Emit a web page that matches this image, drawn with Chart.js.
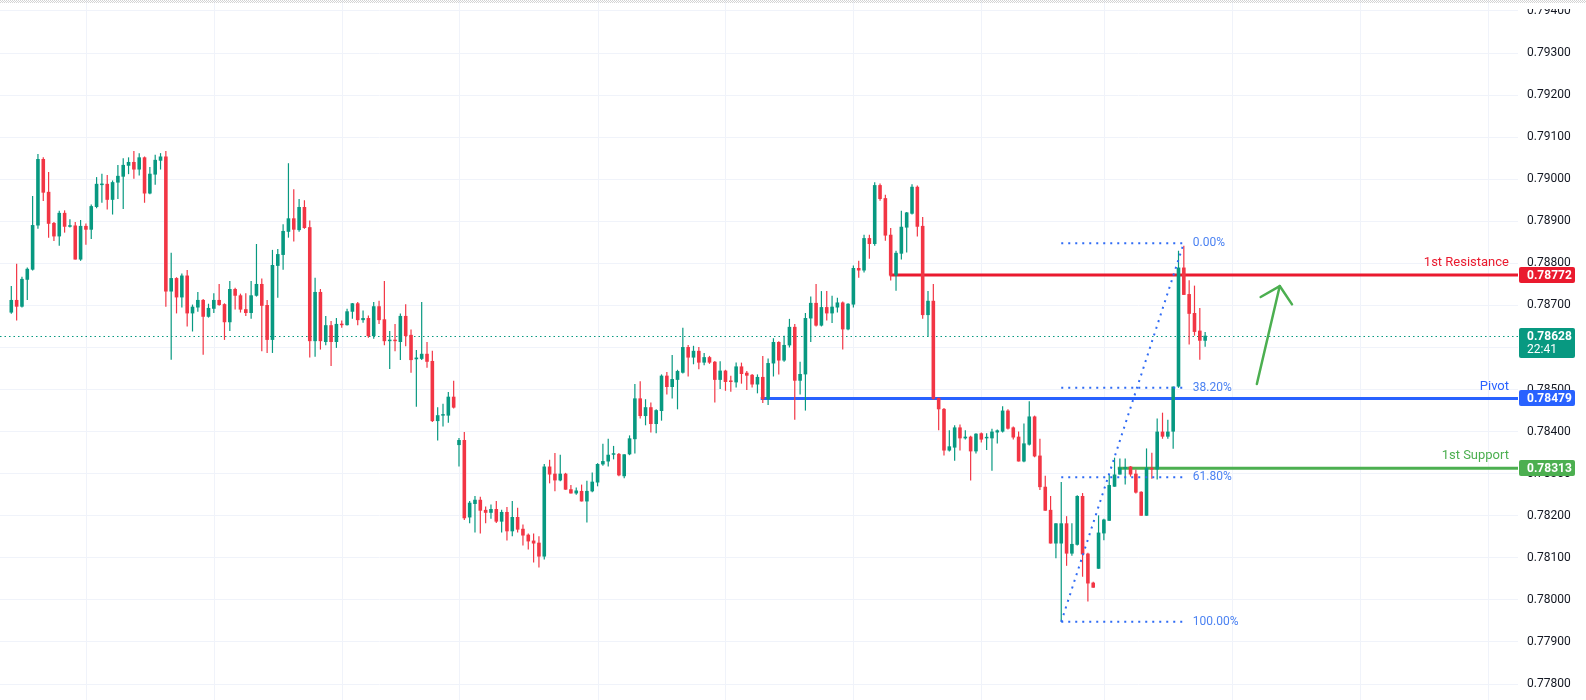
<!DOCTYPE html>
<html>
<head>
<meta charset="utf-8">
<script src="https://cdn.jsdelivr.net/npm/chart.js@4.4.1/dist/chart.umd.min.js"></script>
<style>
  html, body { margin: 0; padding: 0; background: #ffffff; }
  #wrap { width: 1586px; height: 700px; position: relative; }
</style>
</head>
<body>
<div id="wrap"><canvas id="chart" width="1586" height="700"></canvas></div>
<script>
// OHLC, one candle per bar
const opens = [
  0.78683, 0.78713, 0.78697, 0.78761, 0.78785, 0.78890, 0.79048, 0.78970, 0.78896, 0.78864,
  0.78920, 0.78887, 0.78890, 0.78809, 0.78889, 0.78880, 0.78934, 0.78986, 0.78989, 0.78951,
  0.78992, 0.79006, 0.79032, 0.79041, 0.79023, 0.79052, 0.78966, 0.79011, 0.79044, 0.79054,
  0.78733, 0.78765, 0.78719, 0.78771, 0.78681, 0.78695, 0.78713, 0.78673, 0.78692, 0.78713,
  0.78703, 0.78660, 0.78739, 0.78724, 0.78691, 0.78682, 0.78723, 0.78751, 0.78701, 0.78618,
  0.78794, 0.78820, 0.78875, 0.78907, 0.78879, 0.78934, 0.78886, 0.78615, 0.78732, 0.78613,
  0.78653, 0.78613, 0.78656, 0.78653, 0.78685, 0.78705, 0.78665, 0.78670, 0.78627, 0.78698,
  0.78667, 0.78615, 0.78618, 0.78613, 0.78675, 0.78630, 0.78572, 0.78573, 0.78585, 0.78568,
  0.78425, 0.78438, 0.78438, 0.78483, 0.78368, 0.78380, 0.78196, 0.78228, 0.78238, 0.78214,
  0.78207, 0.78216, 0.78186, 0.78209, 0.78163, 0.78197, 0.78169, 0.78155, 0.78141, 0.78136,
  0.78103, 0.78317, 0.78300, 0.78284, 0.78300, 0.78263, 0.78253, 0.78259, 0.78234, 0.78258,
  0.78279, 0.78322, 0.78329, 0.78345, 0.78347, 0.78294, 0.78346, 0.78382, 0.78479, 0.78437,
  0.78458, 0.78418, 0.78449, 0.78533, 0.78506, 0.78523, 0.78540, 0.78601, 0.78576, 0.78592,
  0.78564, 0.78577, 0.78566, 0.78523, 0.78545, 0.78521, 0.78517, 0.78555, 0.78540, 0.78535,
  0.78512, 0.78530, 0.78477, 0.78562, 0.78613, 0.78569, 0.78605, 0.78649, 0.78521, 0.78536,
  0.78669, 0.78706, 0.78652, 0.78696, 0.78681, 0.78695, 0.78707, 0.78643, 0.78702, 0.78789,
  0.78783, 0.78860, 0.78846, 0.78986, 0.78955, 0.78868, 0.78771, 0.78823, 0.78885, 0.78918,
  0.78982, 0.78889, 0.78677, 0.78711, 0.78480, 0.78454, 0.78355, 0.78362, 0.78410, 0.78384,
  0.78388, 0.78353, 0.78396, 0.78384, 0.78384, 0.78398, 0.78400, 0.78450, 0.78410, 0.78388,
  0.78329, 0.78369, 0.78436, 0.78343, 0.78269, 0.78214, 0.78134, 0.78134, 0.78182, 0.78110,
  0.78131, 0.78247, 0.78110, 0.78041, 0.78074, 0.78158, 0.78188, 0.78269, 0.78298, 0.78312,
  0.78317, 0.78300, 0.78257, 0.78200, 0.78314, 0.78310, 0.78400, 0.78388, 0.78400, 0.78507,
  0.78790, 0.78727, 0.78682, 0.78640, 0.78616
];
const highs = [
  0.78746, 0.78799, 0.78768, 0.78790, 0.78960, 0.79060, 0.79052, 0.79017, 0.78898, 0.78925,
  0.78926, 0.78905, 0.78898, 0.78903, 0.78895, 0.78940, 0.79005, 0.79013, 0.79010, 0.78997,
  0.79034, 0.79050, 0.79052, 0.79067, 0.79062, 0.79054, 0.79029, 0.79058, 0.79062, 0.79067,
  0.78825, 0.78767, 0.78776, 0.78784, 0.78702, 0.78732, 0.78715, 0.78704, 0.78729, 0.78751,
  0.78705, 0.78758, 0.78742, 0.78728, 0.78729, 0.78758, 0.78846, 0.78764, 0.78713, 0.78832,
  0.78834, 0.78893, 0.79038, 0.78976, 0.78953, 0.78950, 0.78902, 0.78766, 0.78739, 0.78675,
  0.78663, 0.78670, 0.78664, 0.78692, 0.78706, 0.78708, 0.78688, 0.78676, 0.78708, 0.78711,
  0.78758, 0.78639, 0.78656, 0.78681, 0.78703, 0.78643, 0.78594, 0.78708, 0.78613, 0.78592,
  0.78458, 0.78466, 0.78494, 0.78521, 0.78385, 0.78399, 0.78235, 0.78247, 0.78245, 0.78222,
  0.78227, 0.78235, 0.78214, 0.78221, 0.78235, 0.78219, 0.78179, 0.78158, 0.78158, 0.78151,
  0.78323, 0.78333, 0.78349, 0.78345, 0.78302, 0.78273, 0.78267, 0.78274, 0.78283, 0.78303,
  0.78325, 0.78371, 0.78383, 0.78366, 0.78349, 0.78346, 0.78391, 0.78513, 0.78520, 0.78477,
  0.78469, 0.78453, 0.78536, 0.78542, 0.78582, 0.78547, 0.78647, 0.78606, 0.78604, 0.78601,
  0.78587, 0.78580, 0.78568, 0.78567, 0.78547, 0.78533, 0.78564, 0.78564, 0.78544, 0.78537,
  0.78536, 0.78580, 0.78574, 0.78622, 0.78615, 0.78628, 0.78668, 0.78656, 0.78566, 0.78682,
  0.78721, 0.78751, 0.78734, 0.78734, 0.78723, 0.78718, 0.78709, 0.78705, 0.78795, 0.78806,
  0.78868, 0.78868, 0.78993, 0.78990, 0.78963, 0.78884, 0.78830, 0.78925, 0.78922, 0.78988,
  0.78985, 0.78910, 0.78734, 0.78751, 0.78481, 0.78456, 0.78403, 0.78415, 0.78417, 0.78403,
  0.78390, 0.78396, 0.78398, 0.78396, 0.78407, 0.78405, 0.78460, 0.78453, 0.78412, 0.78400,
  0.78419, 0.78472, 0.78438, 0.78383, 0.78295, 0.78247, 0.78182, 0.78280, 0.78199, 0.78182,
  0.78249, 0.78254, 0.78112, 0.78043, 0.78201, 0.78193, 0.78298, 0.78338, 0.78336, 0.78336,
  0.78318, 0.78310, 0.78258, 0.78360, 0.78350, 0.78431, 0.78445, 0.78428, 0.78507, 0.78830,
  0.78842, 0.78760, 0.78747, 0.78694, 0.78637
];
const lows = [
  0.78680, 0.78664, 0.78695, 0.78713, 0.78783, 0.78882, 0.78948, 0.78861, 0.78853, 0.78842,
  0.78873, 0.78885, 0.78809, 0.78806, 0.78844, 0.78858, 0.78931, 0.78944, 0.78928, 0.78916,
  0.78953, 0.78929, 0.79012, 0.79001, 0.79009, 0.78944, 0.78964, 0.78987, 0.79023, 0.78697,
  0.78571, 0.78681, 0.78695, 0.78650, 0.78638, 0.78685, 0.78583, 0.78671, 0.78682, 0.78699,
  0.78618, 0.78639, 0.78690, 0.78683, 0.78675, 0.78668, 0.78721, 0.78591, 0.78587, 0.78587,
  0.78718, 0.78785, 0.78861, 0.78852, 0.78875, 0.78882, 0.78576, 0.78578, 0.78595, 0.78605,
  0.78556, 0.78599, 0.78647, 0.78652, 0.78668, 0.78653, 0.78659, 0.78623, 0.78621, 0.78656,
  0.78605, 0.78549, 0.78591, 0.78570, 0.78603, 0.78540, 0.78459, 0.78570, 0.78552, 0.78423,
  0.78379, 0.78412, 0.78421, 0.78455, 0.78317, 0.78190, 0.78182, 0.78160, 0.78158, 0.78182,
  0.78193, 0.78183, 0.78160, 0.78141, 0.78151, 0.78160, 0.78129, 0.78120, 0.78089, 0.78077,
  0.78096, 0.78277, 0.78258, 0.78282, 0.78262, 0.78253, 0.78250, 0.78234, 0.78184, 0.78256,
  0.78270, 0.78319, 0.78317, 0.78334, 0.78294, 0.78289, 0.78344, 0.78348, 0.78431, 0.78415,
  0.78398, 0.78396, 0.78426, 0.78488, 0.78479, 0.78453, 0.78538, 0.78531, 0.78560, 0.78548,
  0.78558, 0.78561, 0.78469, 0.78501, 0.78497, 0.78495, 0.78505, 0.78514, 0.78499, 0.78505,
  0.78491, 0.78468, 0.78463, 0.78531, 0.78536, 0.78566, 0.78600, 0.78428, 0.78488, 0.78450,
  0.78613, 0.78650, 0.78650, 0.78664, 0.78658, 0.78683, 0.78595, 0.78641, 0.78695, 0.78766,
  0.78778, 0.78811, 0.78842, 0.78949, 0.78854, 0.78759, 0.78735, 0.78809, 0.78826, 0.78916,
  0.78864, 0.78668, 0.78626, 0.78476, 0.78403, 0.78343, 0.78353, 0.78331, 0.78355, 0.78381,
  0.78284, 0.78348, 0.78374, 0.78356, 0.78307, 0.78372, 0.78398, 0.78405, 0.78381, 0.78329,
  0.78327, 0.78367, 0.78339, 0.78261, 0.78212, 0.78134, 0.78099, 0.77948, 0.78081, 0.78105,
  0.78129, 0.78055, 0.77996, 0.78029, 0.78074, 0.78142, 0.78188, 0.78269, 0.78298, 0.78274,
  0.78293, 0.78253, 0.78200, 0.78200, 0.78288, 0.78286, 0.78383, 0.78383, 0.78359, 0.78504,
  0.78725, 0.78607, 0.78628, 0.78571, 0.78602
];
const closes = [
  0.78713, 0.78697, 0.78763, 0.78787, 0.78891, 0.79048, 0.78968, 0.78894, 0.78864, 0.78920,
  0.78887, 0.78890, 0.78809, 0.78889, 0.78880, 0.78936, 0.78989, 0.78989, 0.78951, 0.78993,
  0.79008, 0.79034, 0.79041, 0.79023, 0.79052, 0.78966, 0.79013, 0.79046, 0.79054, 0.78733,
  0.78765, 0.78719, 0.78771, 0.78681, 0.78697, 0.78713, 0.78673, 0.78694, 0.78713, 0.78701,
  0.78660, 0.78739, 0.78723, 0.78690, 0.78682, 0.78724, 0.78751, 0.78699, 0.78618, 0.78796,
  0.78822, 0.78877, 0.78907, 0.78880, 0.78934, 0.78884, 0.78615, 0.78732, 0.78615, 0.78653,
  0.78613, 0.78656, 0.78653, 0.78686, 0.78705, 0.78665, 0.78670, 0.78627, 0.78698, 0.78665,
  0.78615, 0.78618, 0.78615, 0.78675, 0.78627, 0.78570, 0.78576, 0.78585, 0.78566, 0.78425,
  0.78439, 0.78441, 0.78483, 0.78457, 0.78380, 0.78194, 0.78231, 0.78238, 0.78212, 0.78207,
  0.78216, 0.78186, 0.78209, 0.78163, 0.78197, 0.78167, 0.78153, 0.78139, 0.78134, 0.78103,
  0.78317, 0.78298, 0.78284, 0.78300, 0.78262, 0.78253, 0.78260, 0.78234, 0.78259, 0.78281,
  0.78323, 0.78330, 0.78345, 0.78347, 0.78296, 0.78346, 0.78384, 0.78479, 0.78437, 0.78458,
  0.78418, 0.78451, 0.78533, 0.78506, 0.78525, 0.78544, 0.78601, 0.78576, 0.78592, 0.78564,
  0.78577, 0.78564, 0.78523, 0.78545, 0.78518, 0.78518, 0.78555, 0.78537, 0.78533, 0.78512,
  0.78530, 0.78477, 0.78563, 0.78613, 0.78569, 0.78606, 0.78649, 0.78521, 0.78537, 0.78670,
  0.78706, 0.78652, 0.78696, 0.78681, 0.78697, 0.78707, 0.78643, 0.78704, 0.78789, 0.78783,
  0.78860, 0.78846, 0.78986, 0.78953, 0.78866, 0.78771, 0.78825, 0.78887, 0.78921, 0.78982,
  0.78887, 0.78677, 0.78711, 0.78478, 0.78453, 0.78355, 0.78365, 0.78410, 0.78384, 0.78388,
  0.78353, 0.78395, 0.78381, 0.78386, 0.78400, 0.78403, 0.78450, 0.78407, 0.78386, 0.78329,
  0.78372, 0.78436, 0.78341, 0.78268, 0.78212, 0.78134, 0.78182, 0.78182, 0.78110, 0.78133,
  0.78247, 0.78108, 0.78039, 0.78029, 0.78160, 0.78191, 0.78273, 0.78298, 0.78314, 0.78314,
  0.78298, 0.78255, 0.78200, 0.78314, 0.78310, 0.78400, 0.78388, 0.78400, 0.78507, 0.78790,
  0.78725, 0.78680, 0.78637, 0.78616, 0.78628
];

// price scale labels
const priceTicks = [0.778, 0.779, 0.780, 0.781, 0.782, 0.783, 0.784, 0.785, 0.786, 0.787,
                    0.788, 0.789, 0.790, 0.791, 0.792, 0.793, 0.794];
// candle index where each day starts (vertical grid)
const dayStarts = [14, 38, 62, 84, 110, 134, 158, 182, 205, 229, 253, 277];

// drawn levels
const levelNames = ['1st Resistance', 'Pivot', '1st Support'];
const levelPrices = [0.78772, 0.78479, 0.78313];
const levelFrom = [164.8, 140.6, 207.6];

const lastPrice = 0.78628;
const countdown = '22:41';

// fibonacci retracement
const fibLevels = [0, 0.382, 0.618, 1];
const fibHigh = 0.78848;
const fibLow = 0.77948;
const fibFrom = 197;
const fibTo = 220;

// arrow (candle index, price)
const arrowStart = [233.7, 0.78513];
const arrowEnd = [238, 0.78746];

const UP = '#089981';
const DOWN = '#f23645';
const levelColors = ['#ea1a2e', '#2962ff', '#4caf50'];
const FONT = 'Roboto, "Liberation Sans", sans-serif';

const idx = opens.map((_, i) => i);
const candleColors = idx.map(i => closes[i] >= opens[i] ? UP : DOWN);

const overlay = {
  id: 'overlay',
  beforeDatasetsDraw(chart) {
    const { ctx, chartArea: a, scales: { x, y } } = chart;
    ctx.save();
    // day separators
    ctx.strokeStyle = '#f0f3fa';
    ctx.lineWidth = 1;
    dayStarts.forEach(d => {
      const px = Math.round(x.getPixelForValue(d)) + 0.5;
      ctx.beginPath(); ctx.moveTo(px, a.top); ctx.lineTo(px, a.bottom); ctx.stroke();
    });
    // last price dotted line
    const ly = Math.round(y.getPixelForValue(lastPrice)) + 0.5;
    ctx.strokeStyle = UP;
    ctx.setLineDash([1.5, 3]);
    ctx.beginPath(); ctx.moveTo(a.left, ly); ctx.lineTo(a.right, ly); ctx.stroke();
    ctx.setLineDash([]);
    // support / resistance lines
    ctx.lineWidth = 3;
    levelPrices.forEach((p, k) => {
      const py = y.getPixelForValue(p);
      ctx.strokeStyle = levelColors[k];
      ctx.beginPath(); ctx.moveTo(x.getPixelForValue(levelFrom[k]), py); ctx.lineTo(a.right, py); ctx.stroke();
    });
    ctx.restore();
  },
  afterDatasetsDraw(chart) {
    const { ctx, chartArea: a, scales: { x, y } } = chart;
    ctx.save();
    // level names
    ctx.font = '13px ' + FONT;
    ctx.textAlign = 'right';
    ctx.textBaseline = 'middle';
    levelPrices.forEach((p, k) => {
      ctx.fillStyle = levelColors[k];
      ctx.fillText(levelNames[k], a.right - 9, y.getPixelForValue(p) - 12);
    });
    // fib retracement
    const fx0 = x.getPixelForValue(fibFrom);
    const fx1 = x.getPixelForValue(fibTo);
    ctx.strokeStyle = '#2f6bf5';
    ctx.lineWidth = 2;
    ctx.setLineDash([2, 5]);
    fibLevels.forEach(l => {
      const py = y.getPixelForValue(fibHigh - l * (fibHigh - fibLow));
      ctx.beginPath(); ctx.moveTo(fx0, py); ctx.lineTo(fx1, py); ctx.stroke();
    });
    ctx.beginPath();
    ctx.moveTo(fx0, y.getPixelForValue(fibLow));
    ctx.lineTo(fx1, y.getPixelForValue(fibHigh));
    ctx.stroke();
    ctx.setLineDash([]);
    ctx.font = '12px ' + FONT;
    ctx.textAlign = 'left';
    ctx.fillStyle = '#4b82f2';
    fibLevels.forEach(l => {
      const py = y.getPixelForValue(fibHigh - l * (fibHigh - fibLow));
      ctx.fillText((l * 100).toFixed(2) + '%', fx1 + 9, py);
    });
    // green arrow
    const ax0 = x.getPixelForValue(arrowStart[0]), ay0 = y.getPixelForValue(arrowStart[1]);
    const ax1 = x.getPixelForValue(arrowEnd[0]), ay1 = y.getPixelForValue(arrowEnd[1]);
    const ang = Math.atan2(ay0 - ay1, ax0 - ax1);
    const head = 22, spread = 47 * Math.PI / 180;
    ctx.strokeStyle = '#4caf50';
    ctx.lineWidth = 2.5;
    ctx.lineCap = 'round';
    ctx.lineJoin = 'round';
    ctx.beginPath(); ctx.moveTo(ax0, ay0); ctx.lineTo(ax1, ay1); ctx.stroke();
    ctx.beginPath();
    ctx.moveTo(ax1 + head * Math.cos(ang + spread), ay1 + head * Math.sin(ang + spread));
    ctx.lineTo(ax1, ay1);
    ctx.lineTo(ax1 + head * Math.cos(ang - spread), ay1 + head * Math.sin(ang - spread));
    ctx.stroke();
    ctx.restore();
  },
  afterDraw(chart) {
    const { ctx, chartArea: a, scales: { y } } = chart;
    ctx.save();
    const bx = a.right + 1, bw = 56;
    function box(py, color, lines) {
      const h = lines.length > 1 ? 30 : 16;
      const top = Math.round(py) - 8;
      ctx.fillStyle = color;
      ctx.beginPath();
      ctx.roundRect(bx, top, bw, h, 2);
      ctx.fill();
      ctx.fillStyle = '#ffffff';
      ctx.textAlign = 'left';
      ctx.textBaseline = 'middle';
      lines.forEach((t, k) => {
        ctx.font = (k === 0 ? 'bold ' : '') + '12px ' + FONT;
        ctx.fillText(t, bx + 8, top + 8.5 + k * 13.5);
      });
    }
    levelPrices.forEach((p, k) => box(y.getPixelForValue(p), levelColors[k], [p.toFixed(5)]));
    box(y.getPixelForValue(lastPrice), UP, [lastPrice.toFixed(5), countdown]);
    // cut top edge like the screenshot
    ctx.fillStyle = '#ffffff';
    ctx.fillRect(a.right + 1, 0, chart.width - a.right, 9);
    ctx.fillStyle = '#d3d3d3';
    for (let px = 0; px < chart.width; px += 2) {
      ctx.fillRect(px, 0, 1, 1);
      ctx.fillRect(px + 1, 1, 1, 1);
      ctx.fillRect(px, 2, 1, 1);
    }
    ctx.restore();
  }
};

const ctxChart = document.getElementById('chart').getContext('2d');
new Chart(ctxChart, {
  type: 'bar',
  data: {
    datasets: [
      {
        label: 'wick',
        data: idx.map(i => ({ x: i, y: [lows[i], highs[i]] })),
        backgroundColor: candleColors,
        barThickness: 1.2,
        minBarLength: 1,
        inflateAmount: 0,
        borderWidth: 0
      },
      {
        label: 'body',
        data: idx.map(i => ({ x: i, y: [opens[i], closes[i]] })),
        backgroundColor: candleColors,
        barThickness: 3.6,
        minBarLength: 1.5,
        inflateAmount: 0,
        borderWidth: 0
      }
    ]
  },
  options: {
    responsive: false,
    animation: false,
    layout: { padding: 0 },
    datasets: { bar: { grouped: false } },
    plugins: { legend: { display: false }, tooltip: { enabled: false } },
    scales: {
      x: { type: 'linear', display: false, offset: false, min: -2.12, max: 282.7 },
      y: {
        position: 'right',
        min: 0.77762,
        max: 0.79426,
        afterBuildTicks: s => { s.ticks = priceTicks.map(v => ({ value: v })); },
        afterFit: s => { s.width = 68; s.paddingTop = 0; s.paddingBottom = 0; },
        grid: { color: '#f0f3fa', drawTicks: false },
        border: { display: false },
        ticks: {
          padding: 9,
          color: '#131722',
          font: { family: FONT, size: 12 },
          callback: v => Number(v).toFixed(5)
        }
      }
    }
  },
  plugins: [overlay]
});
</script>
</body>
</html>
